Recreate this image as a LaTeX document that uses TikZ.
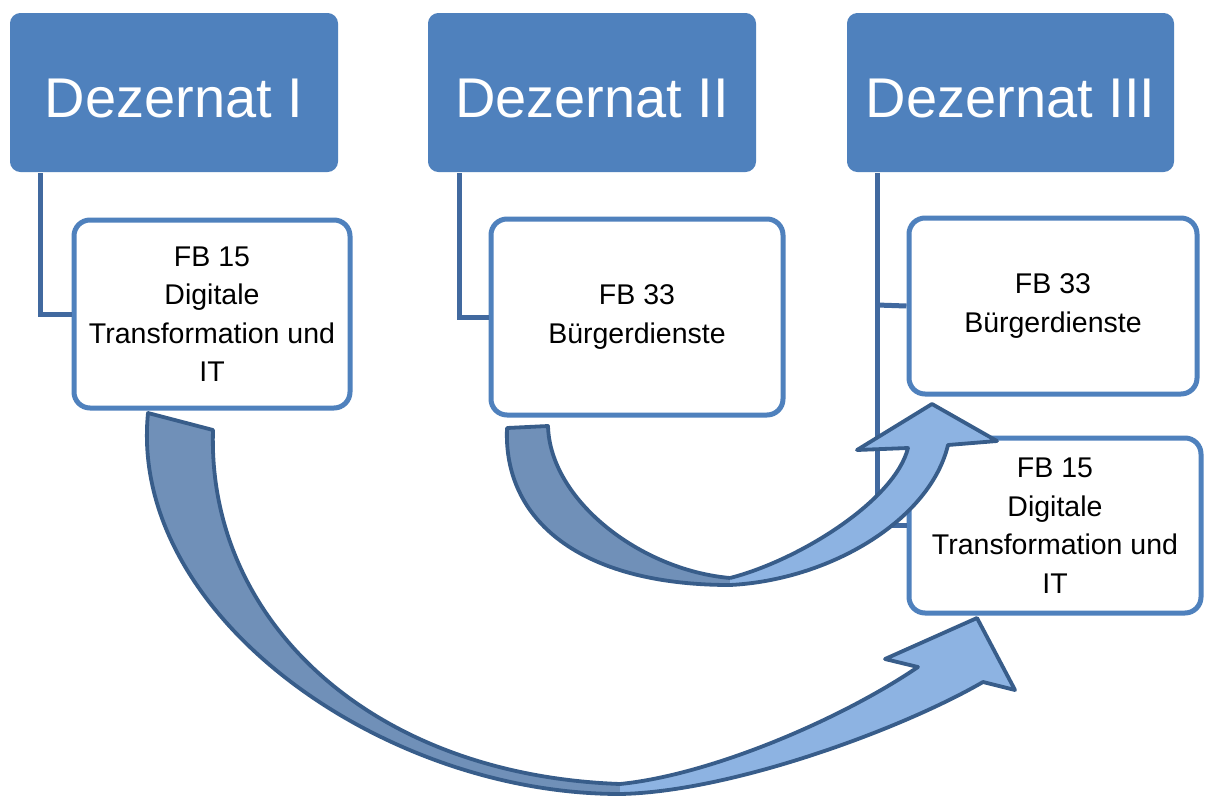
\documentclass[tikz,border=0pt]{standalone}
\usepackage{fontspec}
\setmainfont{Liberation Sans}
\definecolor{hdr}{HTML}{4F81BD}
\definecolor{conn}{HTML}{41699F}
\definecolor{aline}{HTML}{385D8A}
\definecolor{adark}{HTML}{7090B8}
\definecolor{alight}{HTML}{8DB3E2}
\begin{document}
\begin{tikzpicture}[x=1pt,y=-1pt,
  head/.style={fill=hdr, draw=hdr, line width=1pt, rounded corners=10pt, text=white,
    font=\fontsize{56}{60}\selectfont, inner sep=0pt, minimum height=158pt,
    text height=50.5pt, text depth=0pt},
  unit/.style={fill=white, draw=hdr, line width=5pt, rounded corners=16pt,
    font=\fontsize{28.5}{38.5}\selectfont, align=center, inner sep=0pt},
  link/.style={draw=conn, line width=5pt},
  edge/.style={draw=aline, line width=3.8pt, line join=round}]
\fill[white] (0,0) rectangle (1208,796);
\useasboundingbox (0,0) rectangle (1208,796);

% headers
\node[head, minimum width=327pt] (D1) at (174,92.5) {Dezernat I};
\node[head, minimum width=327pt] (D2) at (592,92.5) {Dezernat II};
\node[head, minimum width=326pt] (D3) at (1010.5,92.5) {Dezernat III};

% connector start points
\coordinate (c1) at (40,173);
\coordinate (c2) at (459,173);
\coordinate (c3) at (877,173);
\coordinate (c3b) at (877,305);

% units
\node[unit, minimum width=276pt, minimum height=188pt] (F1) at (212,314) {FB 15\\Digitale\\Transformation und\\IT};
\node[unit, minimum width=292pt, minimum height=196pt] (F2) at (637,317) {FB 33\\Bürgerdienste};
\node[unit, minimum width=288pt, minimum height=176pt] (F3) at (1053,306) {FB 33\\Bürgerdienste};
\node[unit, minimum width=292pt, minimum height=175pt] (F4) at (1055,525.5) {FB 15\\Digitale\\Transformation und\\IT};

% connectors
\draw[link] (c1) |- (F1.west);
\draw[link] (c2) |- (F2.west);
\draw[link] (c3) |- (F4.west);
\draw[link] (c3b) -- (F3.west);

% big arrow: FB 15 from Dezernat I to Dezernat III
\fill[adark] (148,413) .. controls (128,613) and (380,794) .. (620,794)
  -- (620,784) .. controls (370,775) and (207,620) .. (213,430) -- cycle;
\fill[alight] (620,794) .. controls (730,792) and (900,730) .. (983,682)
  -- (1015,690) -- (977,618) -- (885,659) -- (918,667)
  .. controls (840,720) and (710,775) .. (620,784) -- cycle;
\draw[edge] (620,794) .. controls (380,794) and (128,613) .. (148,413)
  -- (213,430) .. controls (207,620) and (370,775) .. (620,784);
\draw[edge] (620,794) .. controls (730,792) and (900,730) .. (983,682)
  -- (1015,690) -- (977,618) -- (885,659) -- (918,667)
  .. controls (840,720) and (710,775) .. (620,784);

% small arrow: FB 33 from Dezernat II to Dezernat III
\fill[adark] (507,428) .. controls (503,520) and (580,585) .. (730,585)
  -- (730,578) .. controls (640,570) and (550,500) .. (548,426) -- cycle;
\fill[alight] (730,585) .. controls (830,580) and (930,520) .. (948,445)
  -- (997,441) -- (932,404) -- (857,450) -- (908,448)
  .. controls (895,500) and (800,560) .. (730,578) -- cycle;
\draw[edge] (730,585) .. controls (580,585) and (503,520) .. (507,428)
  -- (548,426) .. controls (550,500) and (640,570) .. (730,578);
\draw[edge] (730,585) .. controls (830,580) and (930,520) .. (948,445)
  -- (997,441) -- (932,404) -- (857,450) -- (908,448)
  .. controls (895,500) and (800,560) .. (730,578);
\end{tikzpicture}
\end{document}
